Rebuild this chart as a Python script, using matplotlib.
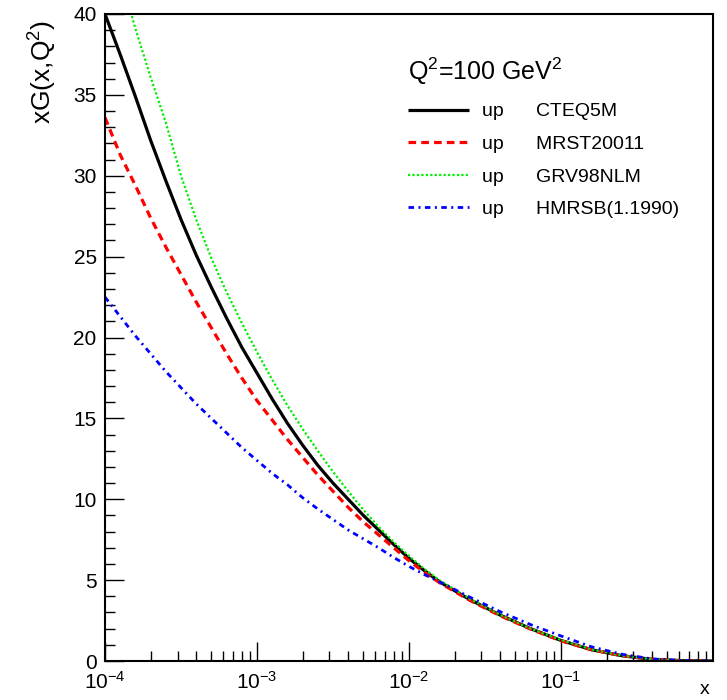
import numpy as np
import matplotlib
matplotlib.use("Agg")
import matplotlib.pyplot as plt
import matplotlib.transforms as mtransforms
from matplotlib.ticker import MultipleLocator, LogLocator, NullFormatter

plt.rcParams["font.family"] = ["Liberation Sans", "DejaVu Sans"]
plt.rcParams["mathtext.fontset"] = "custom"
plt.rcParams["mathtext.rm"] = "Liberation Sans"
plt.rcParams["mathtext.it"] = "Liberation Sans"

# log10(x) grid the curves were read at
logx = [-4.0, -3.9, -3.8, -3.7, -3.6, -3.5, -3.4, -3.3, -3.2, -3.1, -3.0,
        -2.9, -2.8, -2.7, -2.6, -2.5, -2.4, -2.3, -2.2, -2.1, -2.0,
        -1.9, -1.8, -1.6, -1.4, -1.2, -1.0, -0.8, -0.6, -0.4, -0.2, 0.0]

cteq5m = [40.0, 37.5, 34.9, 32.2, 29.7, 27.3, 25.1, 23.1, 21.2, 19.4, 17.8,
          16.2, 14.7, 13.35, 12.1, 11.0, 10.0, 9.0, 8.1, 7.2, 6.35,
          5.6, 4.9, 3.8, 2.84, 2.0, 1.27, 0.70, 0.33, 0.10, 0.02, 0.0]
mrst2001 = [33.6, 31.3, 29.4, 27.4, 25.6, 23.9, 22.2, 20.6, 19.0, 17.5, 16.1,
            14.9, 13.7, 12.6, 11.5, 10.5, 9.5, 8.6, 7.8, 7.0, 6.2,
            5.5, 4.85, 3.75, 2.8, 1.97, 1.25, 0.70, 0.33, 0.10, 0.02, 0.0]
grv98 = [46.0, 42.4, 39.1, 36.1, 33.3, 30.0, 27.3, 24.9, 22.8, 20.9, 19.1,
         17.4, 15.8, 14.35, 13.0, 11.7, 10.5, 9.35, 8.3, 7.35, 6.5,
         5.7, 5.0, 3.85, 2.85, 2.0, 1.3, 0.72, 0.34, 0.10, 0.02, 0.0]
hmrsb = [22.5, 21.3, 20.1, 19.0, 17.9, 16.9, 15.9, 15.0, 14.1, 13.2, 12.4,
         11.6, 10.9, 10.1, 9.4, 8.75, 8.1, 7.55, 7.0, 6.4, 5.85,
         5.35, 4.9, 3.95, 3.05, 2.25, 1.55, 0.88, 0.42, 0.13, 0.03, 0.0]

labels = ["up      CTEQ5M", "up      MRST20011", "up      GRV98NLM",
          "up      HMRSB(1.1990)"]

x = 10.0 ** np.array(logx)

fig = plt.figure(figsize=(7.27, 7.0), dpi=100)
ax = fig.add_axes([0.1444, 0.0557, 0.8363, 0.9243])

l1, = ax.plot(x, cteq5m, color="black", lw=2.3, solid_capstyle="butt")
l2, = ax.plot(x, mrst2001, color="red", lw=2.3, linestyle=(0, (2.4, 1.6)))
l3, = ax.plot(x, grv98, color="#00ee00", lw=1.6, linestyle=(0, (1.0, 1.0)))
l4, = ax.plot(x, hmrsb, color="blue", lw=2.0, linestyle=(0, (2.0, 1.6, 0.7, 1.6)))

ax.set_xscale("log")
ax.set_xlim(1e-4, 1)
ax.set_ylim(0, 40)

ax.yaxis.set_major_locator(MultipleLocator(5))
ax.yaxis.set_minor_locator(MultipleLocator(1))
ax.xaxis.set_minor_locator(LogLocator(base=10, subs=np.arange(2, 10), numticks=20))
ax.xaxis.set_minor_formatter(NullFormatter())

ax.tick_params(which="both", direction="in", top=False, right=False,
               color="black", width=1.0, labelsize=15)
ax.tick_params(which="major", length=14)
ax.tick_params(which="minor", length=7)
ax.tick_params(axis="x", pad=7)
ax.tick_params(axis="y", pad=6)

ax.set_xticks([1e-4, 1e-3, 1e-2, 1e-1])
ax.set_xticklabels([r"$10^{-4}$", r"$10^{-3}$", r"$10^{-2}$", r"$10^{-1}$"])

# the "0" label sits a little left and up, as in the original
zero_lab = ax.yaxis.get_major_ticks()[0].label1
zero_lab.set_transform(zero_lab.get_transform() +
                       mtransforms.ScaledTranslation(-7 / 100, 3 / 100, fig.dpi_scale_trans))

for s in ax.spines.values():
    s.set_linewidth(1.5)

fig.text(43 / 727, 1 - 72 / 700, r"xG(x,Q$^2$)", rotation=90,
         ha="center", va="center", fontsize=19)
fig.text(705 / 727, 1 - 681 / 700, "x", ha="center", va="top", fontsize=14)

leg = ax.legend([l1, l2, l3, l4], labels, loc="upper left",
                bbox_to_anchor=(0.498, 0.935), frameon=False, fontsize=14,
                handlelength=3.15, handletextpad=0.68, labelspacing=0.77,
                borderpad=0, borderaxespad=0,
                title=r"Q$^2$=100 GeV$^2$", title_fontsize=18, alignment="left")
leg._legend_box.sep = 11

fig.savefig("out.png", dpi=100)
